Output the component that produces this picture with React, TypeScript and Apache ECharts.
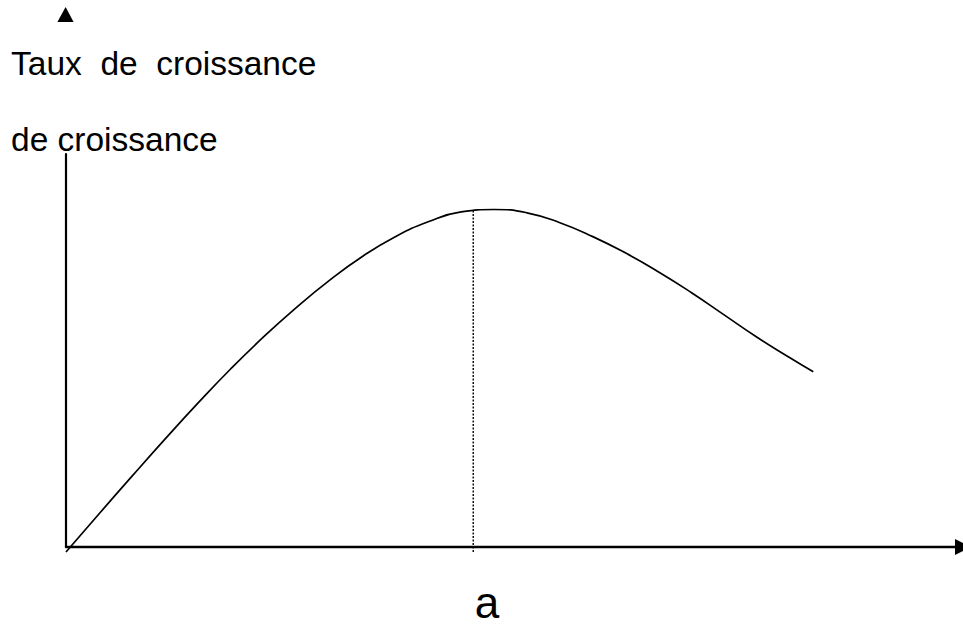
import React, { useEffect, useRef } from "react";
import * as echarts from "echarts";

// Growth-rate curve: rises from the origin, peaks at "a", then declines.
const curveX = [0, 3.67, 7.34, 11.01, 14.68, 18.35, 22.02, 25.7, 29.37, 33.04, 36.71, 40.38, 44.05, 47.72, 51.39, 55.06, 58.73, 62.4, 66.07, 69.74, 73.41, 77.08, 80.75, 83.31];
const curveY = [-1.27, 8.4, 17.96, 27.38, 36.54, 45.29, 53.44, 60.99, 67.86, 73.92, 78.96, 82.75, 85.27, 85.88, 85.04, 82.52, 78.98, 74.78, 70.0, 64.71, 59.01, 53.31, 48.09, 44.58];

// Vertical dotted guide at the peak abscissa "a"
const peakX = 45.4;
const guideY = [85.6, -1.5];

const titleLines = ["Taux  de  croissance", "de croissance"];
const peakLabel = "a";

const FONT = '"Liberation Sans", Arial, sans-serif';

export default function App() {
  const ref = useRef<HTMLDivElement>(null);

  useEffect(() => {
    if (!ref.current) return;
    const chart = echarts.init(ref.current, undefined, { renderer: "svg" });

    const curveData = curveX.map((x, i) => [x, curveY[i]]);
    const guideData = guideY.map((y) => [peakX, y]);

    chart.setOption({
      animation: false,
      backgroundColor: "#ffffff",
      grid: { left: 66, right: -2, top: 154, bottom: 80, containLabel: false },
      xAxis: {
        type: "value",
        min: 0,
        max: 100,
        axisLine: {
          show: true,
          onZero: false,
          symbol: ["none", "triangle"],
          symbolSize: [16, 16],
          lineStyle: { color: "#000", width: 2.4 },
        },
        axisTick: { show: false },
        axisLabel: { show: false },
        splitLine: { show: false },
      },
      yAxis: {
        type: "value",
        min: 0,
        max: 100,
        axisLine: {
          show: true,
          onZero: false,
          lineStyle: { color: "#000", width: 2.2 },
        },
        axisTick: { show: false },
        axisLabel: { show: false },
        splitLine: { show: false },
      },
      series: [
        {
          type: "line",
          data: curveData,
          smooth: 0.5,
          symbol: "none",
          clip: false,
          lineStyle: { color: "#000", width: 1.7 },
        },
        {
          type: "line",
          data: guideData,
          symbol: "none",
          clip: false,
          lineStyle: { color: "#000", width: 1.4, type: [2, 1.5] },
        },
      ],
      graphic: [
        {
          type: "polygon",
          shape: { points: [[65.6, 7], [57.4, 22], [73.6, 22]] },
          style: { fill: "#000" },
        },
        {
          type: "text",
          left: 11,
          top: 46,
          style: { text: titleLines[0], font: `33.5px ${FONT}`, fill: "#000" },
        },
        {
          type: "text",
          left: 11,
          top: 122,
          style: { text: titleLines[1], font: `33.5px ${FONT}`, fill: "#000" },
        },
        {
          type: "text",
          x: 487,
          y: 602,
          style: {
            text: peakLabel,
            font: `44px ${FONT}`,
            lineHeight: 38,
            fill: "#000",
            align: "center",
            verticalAlign: "middle",
          },
        },
      ],
    });

    return () => chart.dispose();
  }, []);

  return (
    <div
      ref={ref}
      style={{ position: "absolute", left: 0, top: 0, width: 963, height: 627 }}
    />
  );
}
